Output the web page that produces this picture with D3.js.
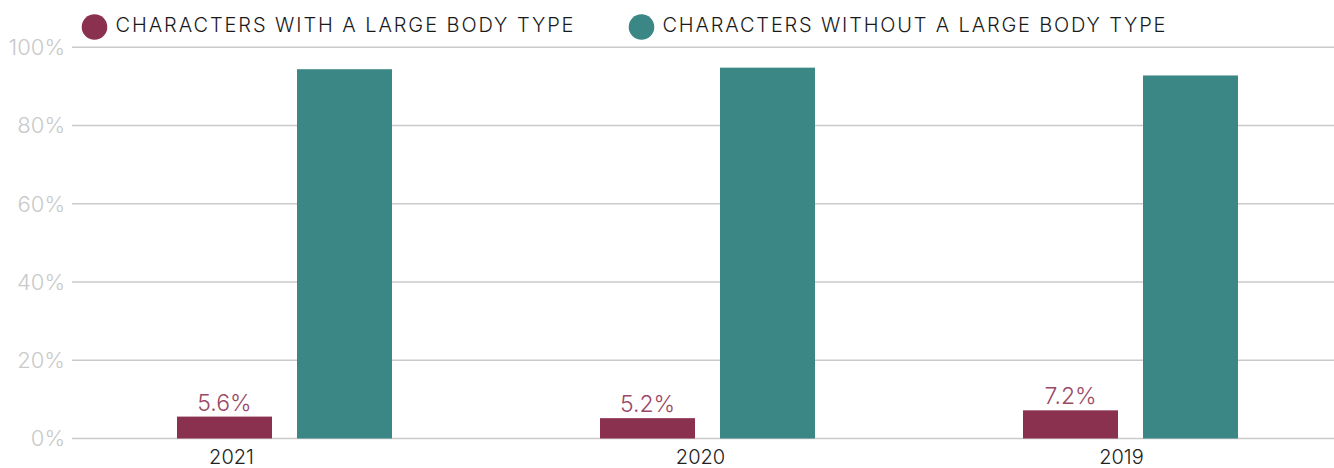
<!DOCTYPE html>
<html>
<head>
<meta charset="utf-8">
<script src="https://cdn.jsdelivr.net/npm/d3@7"></script>
<style>
    body { margin: 0; background: #fff; }
    text { font-family: "Inter", "Lato", sans-serif; }
</style>
</head>
<body>
<div id="chart"></div>
<script>
// data
const years = ["2021", "2020", "2019"];
const seriesNames = ["CHARACTERS WITH A LARGE BODY TYPE", "CHARACTERS WITHOUT A LARGE BODY TYPE"];
const largeBody = [5.6, 5.2, 7.2];
const notLargeBody = [94.4, 94.8, 92.8];
const yTicks = [0, 20, 40, 60, 80, 100];

const colors = ["#8b3150", "#3a8785"];
const width = 1334, height = 468;
// year labels sit a bit left of the group centres in the original
const yearLabelShift = [-53, -7, -9];

let svg = d3.select("#chart").append("svg")
    .attr("width", width)
    .attr("height", height);

let y = d3.scaleLinear().domain([0, 100]).range([438.5, 47.3]);

let x0 = d3.scaleBand().domain(years).range([73, 1342]).padding(0);
let x1 = d3.scaleBand().domain([0, 1]).range([-107.5, 107.5]).paddingInner(0.2083).paddingOuter(0);

// gridlines + y labels
let yAxis = svg.append("g").attr("class", "y-axis");
yAxis.selectAll("line").data(yTicks).enter().append("line")
    .attr("x1", 72).attr("x2", width)
    .attr("y1", d => y(d)).attr("y2", d => y(d))
    .style("stroke", "#cacaca")
    .style("stroke-width", "1.5px");
yAxis.selectAll("text").data(yTicks).enter().append("text")
    .attr("x", 65)
    .attr("y", d => y(d))
    .attr("dy", "0.36em")
    .attr("text-anchor", "end")
    .style("font-size", "22px")
    .style("font-weight", 300)
    .style("fill", "#c9c9c9")
    .text(d => d + "%");

// bars
let rows = years.map((yr, i) => ({year: yr, i: i, values: [largeBody[i], notLargeBody[i]]}));
let groups = svg.selectAll(".group").data(rows).enter().append("g")
    .attr("class", "group")
    .attr("transform", d => "translate(" + (x0(d.year) + x0.bandwidth() / 2) + ",0)");

groups.selectAll("rect").data(d => d.values.map((v, k) => ({k: k, v: v}))).enter().append("rect")
    .attr("x", d => x1(d.k))
    .attr("width", x1.bandwidth())
    .attr("y", d => y(d.v))
    .attr("height", d => y(0) - y(d.v))
    .style("fill", d => colors[d.k]);

// value labels on the maroon bars
groups.append("text")
    .attr("x", x1(0) + x1.bandwidth() / 2)
    .attr("y", d => y(d.values[0]) - 6)
    .attr("text-anchor", "middle")
    .style("font-size", "23px")
    .style("font-weight", 300)
    .style("fill", "#9a4866")
    .text(d => d.values[0] + "%");

// year labels
svg.selectAll(".year").data(years).enter().append("text")
    .attr("class", "year")
    .attr("x", (d, i) => x0(d) + x0.bandwidth() / 2 + yearLabelShift[i])
    .attr("y", 464)
    .attr("text-anchor", "middle")
    .style("font-size", "20px")
    .style("font-weight", 300)
    .style("fill", "#222")
    .text(d => d);

// legend
let legendX = [94.5, 641.5];
let legendW = [458, 503];
let legend = svg.selectAll(".legend").data(seriesNames).enter().append("g")
    .attr("class", "legend")
    .attr("transform", (d, i) => "translate(" + legendX[i] + ",27)");
legend.append("circle")
    .attr("r", 12.8)
    .style("fill", (d, i) => colors[i]);
legend.append("text")
    .attr("x", 21)
    .attr("y", 5)
    .attr("textLength", (d, i) => legendW[i])
    .attr("lengthAdjust", "spacing")
    .style("font-size", "20px")
    .style("font-weight", 300)
    .style("fill", "#1a1a1a")
    .text(d => d);
</script>
</body>
</html>
